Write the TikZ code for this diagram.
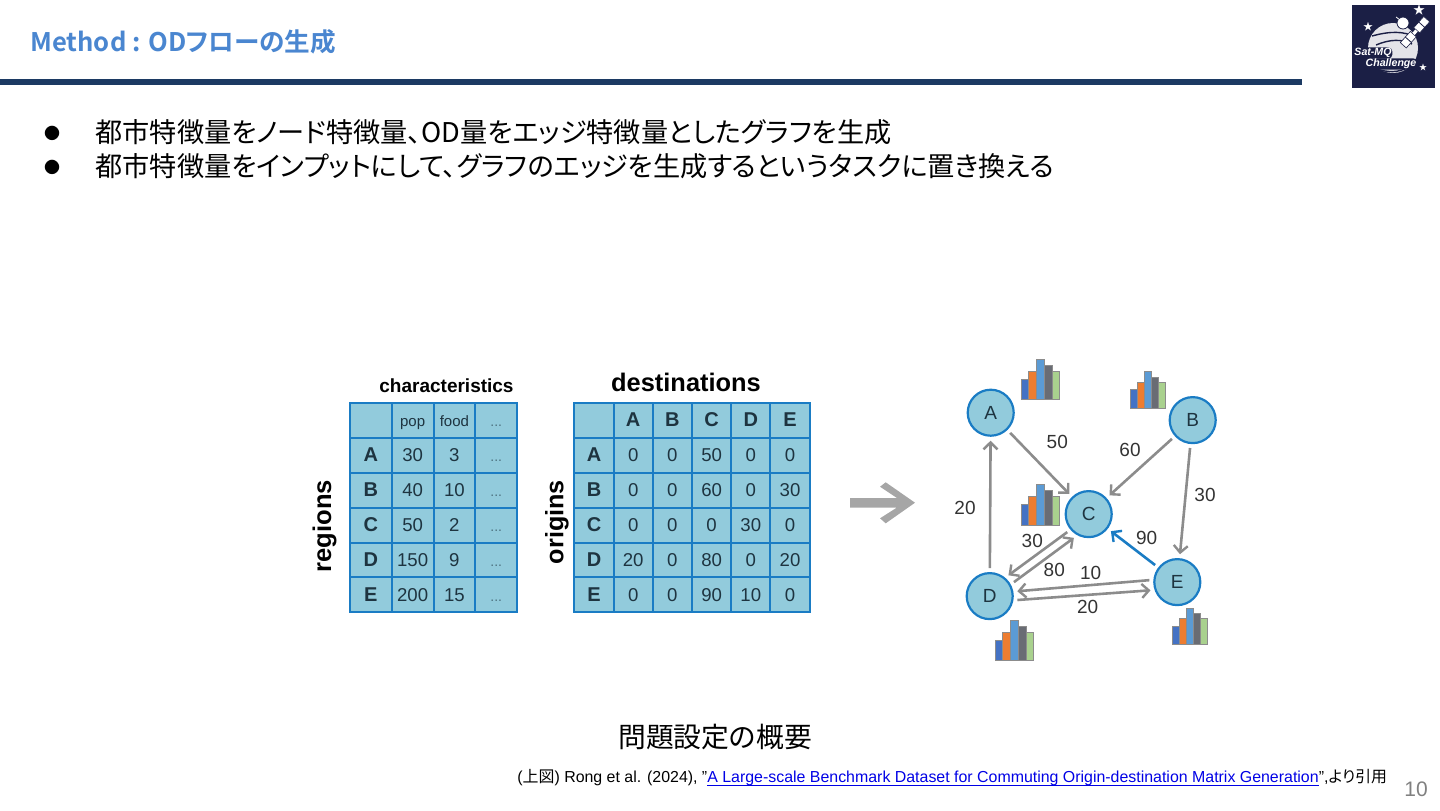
\documentclass[tikz,border=0pt]{standalone}
\usepackage{fontspec}
\usepackage{amsmath}
\usepackage{xcolor}
\usepackage{tikz}
\usetikzlibrary{arrows.meta}
\usetikzlibrary{matrix, positioning}
\setmainfont{Liberation Sans}
\newfontfamily\cjk[RawFeature=+palt]{Noto Sans CJK JP}
\newfontfamily\cjkbold[RawFeature=+palt]{Noto Sans CJK JP Bold}
\definecolor{navy}{HTML}{1C3A63}
\definecolor{logobg}{HTML}{1B1F45}
\definecolor{titleblue}{HTML}{4A86D0}
\definecolor{cellfill}{HTML}{92CBDC}
\definecolor{cellline}{HTML}{1A7CC4}
\definecolor{edgegrey}{HTML}{8C8C8C}
\definecolor{labeltext}{HTML}{333333}
\definecolor{celltext}{HTML}{1E3440}
\definecolor{cbarA}{HTML}{4472C4}
\definecolor{cbarB}{HTML}{ED7D31}
\definecolor{cbarC}{HTML}{5B9BD5}
\definecolor{cbarD}{HTML}{696C74}
\definecolor{cbarE}{HTML}{A9D18E}
\tikzset{
  cell/.style={draw=cellline, fill=cellfill, line width=1pt, text=celltext, inner sep=0pt, anchor=center,
    text height=6.3pt, text depth=0pt, font=\fontsize{9.3}{10}\selectfont},
  table/.style={matrix of nodes, nodes in empty cells, inner sep=0pt, column sep=-1pt, row sep=-1pt,
    row 1/.style={nodes={font=\fontsize{10}{10}\selectfont\bfseries}},
    column 1/.style={nodes={font=\fontsize{10}{10}\selectfont\bfseries}}},
  hdr/.style={font=\fontsize{7.5}{8}\selectfont},
  dots/.style={font=\fontsize{7}{8}\selectfont, text=celltext!60!cellfill},
  place/.style={circle, draw=cellline, fill=cellfill, line width=1.1pt, minimum size=23pt, inner sep=0pt,
    outer sep=2.5pt, text=celltext, font=\fontsize{9.5}{10}\selectfont},
  flow/.style={draw=edgegrey, line width=1.3pt, -{Straight Barb[length=3.5pt,width=7pt,line width=1.2pt]}},
  flowlabel/.style={text=labeltext, font=\fontsize{9.5}{10}\selectfont, inner sep=0pt},
  bulletline/.style={anchor=west, inner sep=0pt, font=\fontsize{13.6}{14}\selectfont\cjk},
  panel/.style={fill=white, draw=logobg, line width=0.3pt, minimum width=7.5pt, minimum height=4pt, inner sep=0pt, rotate=48},
  logotext/.style={text=white, fill=logobg, rounded corners=2pt, inner sep=0.4pt, font=\fontsize{5.3}{6}\selectfont\bfseries\itshape},
}
% small bar chart next to a region, #1 = lower left corner, #2 = scale
\newcommand{\histo}[2]{
  \begin{scope}[shift={#1}, x=#2*0.5pt, y=-#2*0.5pt, line width=0.3pt, draw=edgegrey]
    \filldraw[fill=cbarA] (0,0) rectangle (7.7,-20.5);
    \filldraw[fill=cbarB] (7.7,0) rectangle (15.4,-28.5);
    \filldraw[fill=cbarC] (15.4,0) rectangle (23.1,-40.5);
    \filldraw[fill=cbarD] (23.1,0) rectangle (30.8,-34.5);
    \filldraw[fill=cbarE] (30.8,0) rectangle (38.6,-28.5);
  \end{scope}
}

\begin{document}
\begin{tikzpicture}[x=0.5pt, y=-0.5pt]
    \useasboundingbox (0,0) rectangle (1440,810);

    % header
    \node[anchor=west, inner sep=0pt, text=titleblue, font=\fontsize{12.8}{14}\selectfont\cjkbold] (title) at (30,42) {Method : ODフローの生成};
    \fill[navy] (0,79) rectangle (1302,85);

    % logo
    \fill[logobg] (1352,5) rectangle (1435,88);
    \fill[white!88!logobg] (1393,48) circle (25);
    \draw[logobg, line width=0.7pt] (1372,36) .. controls (1390,31) and (1404,31) .. (1415,37);
    \draw[logobg, line width=0.7pt] (1376,45) .. controls (1390,39) and (1402,39) .. (1412,44);
    \draw[logobg, line width=0.7pt] (1380,70) .. controls (1392,73) and (1402,72) .. (1412,65);
    \node[panel] (panela) at (1421.7,24.7) {};
    \node[panel] (panelb) at (1408.3,39.7) {};
    \draw[logobg, line width=0.4pt] (panela.north) -- (panela.south);
    \draw[logobg, line width=0.4pt] (panelb.north) -- (panelb.south);
    \draw[white, line width=1.6pt] (panela) -- (panelb);
    \filldraw[fill=white, draw=logobg, line width=0.4pt] (1403,23) circle (6);
    \draw[white, line width=0.4pt] (1396,17) -- (1400,20);
    \node[logotext] (logoa) at (1373,53) {Sat-MQ};
    \node[logotext] (logob) at (1391,64) {Challenge};
    \node[text=white, inner sep=0pt, font=\fontsize{6}{6}\selectfont] (stara) at (1419,10) {\cjk ★};
    \node[text=white, inner sep=0pt, font=\fontsize{5}{6}\selectfont] (starb) at (1368,27) {\cjk ★};
    \node[text=white, inner sep=0pt, font=\fontsize{4}{6}\selectfont] (starc) at (1423,67) {\cjk ★};

    % bullets
    \node[inner sep=0pt, font=\fontsize{8}{8}\selectfont\cjk] (dota) at (52,133) {●};
    \node[inner sep=0pt, font=\fontsize{8}{8}\selectfont\cjk] (dotb) at (52,167) {●};
    \node[bulletline] (linea) at (95,132) {都市特徴量をノード特徴量、OD量をエッジ特徴量としたグラフを生成};
    \node[bulletline] (lineb) at (95,166) {都市特徴量をインプットにして、グラフのエッジを生成するというタスクに置き換える};

    % tables
    \matrix[table, anchor=north west, nodes={cell, minimum width=20.9pt, minimum height=17.45pt}] (regions) at (348.5,401.5) {
        & |[hdr]| pop & |[hdr]| food & |[dots]| ... \\
        A & 30 & 3 & |[dots]| ... \\
        B & 40 & 10 & |[dots]| ... \\
        C & 50 & 2 & |[dots]| ... \\
        D & 150 & 9 & |[dots]| ... \\
        E & 200 & 15 & |[dots]| ... \\
    };
    \matrix[table, anchor=north west, nodes={cell, minimum width=19.6pt, minimum height=17.45pt}] (origins) at (573,401.5) {
        & A & B & C & D & E \\
        A & 0 & 0 & 50 & 0 & 0 \\
        B & 0 & 0 & 60 & 0 & 30 \\
        C & 0 & 0 & 0 & 30 & 0 \\
        D & 20 & 0 & 80 & 0 & 20 \\
        E & 0 & 0 & 90 & 10 & 0 \\
    };
    \node[above=4pt of regions.north, xshift=6.5pt, inner sep=0pt, font=\fontsize{9.5}{10}\selectfont\bfseries] (characteristics) {characteristics};
    \node[above=4.5pt of origins.north, xshift=-3pt, inner sep=0pt, font=\fontsize{12.7}{13}\selectfont\bfseries] (destinations) {destinations};
    \node[rotate=90, inner sep=0pt, font=\fontsize{12.8}{13}\selectfont\bfseries] (regionslabel) at (324.5,526) {regions};
    \node[rotate=90, inner sep=0pt, font=\fontsize{12.6}{13}\selectfont\bfseries] (originslabel) at (557,522) {origins};

    % big arrow
    \fill[black!35] (850,498) -- (897,498) -- (880,486.7) -- (885.7,482.3) -- (915,502.7)
        -- (885.7,523.3) -- (880,518.3) -- (897,507.5) -- (850,507.5) -- cycle;

    % graph
    \histo{(1021,399.3)}{1}
    \histo{(1130.3,408)}{0.9}
    \histo{(1021,525)}{1}
    \histo{(995,660.7)}{1}
    \histo{(1172.7,644.3)}{0.9}

    \node[place] (A) at (990.7,412.7) {A};
    \node[place, on grid, below right=50.7pt and 49pt of A] (C) {C};
    \node[place, on grid, above right=47pt and 52pt of C] (B) {B};
    \node[place, on grid, below left=41pt and 49.5pt of C] (D) {D};
    \node[place, on grid, below right=34pt and 44.3pt of C] (E) {E};

    \draw[flow] (A) -- (C);
    \draw[flow] (B) -- (C);
    \draw[flow] (B) -- (E);
    \draw[flow] (D) -- (A);
    \draw[flow] (C.220) -- (D.48);
    \draw[flow] (D.30) -- (C.238);
    \draw[flow] (E.176) -- (D.10);
    \draw[flow] (D.-8) -- (E.197);
    \draw[flow, draw=cellline] (E) -- (C);

    \node[flowlabel] (l50) at (1057.3,441.7) {50};
    \node[flowlabel] (l60) at (1130,450) {60};
    \node[flowlabel] (l30b) at (1205,495.3) {30};
    \node[flowlabel] (l20a) at (965,507.7) {20};
    \node[flowlabel] (l30c) at (1032.3,541.3) {30};
    \node[flowlabel] (l80) at (1054.3,570) {80};
    \node[flowlabel] (l10) at (1090.7,573.3) {10};
    \node[flowlabel] (l20b) at (1087.7,606.7) {20};
    \node[flowlabel] (l90) at (1146.7,538.3) {90};

    % caption and source
    \node[inner sep=0pt, font=\fontsize{13.9}{14}\selectfont\cjk] (caption) at (715,737) {問題設定の概要};
    \node[anchor=west, inner sep=0pt, font=\fontsize{7.96}{9}\selectfont] (source) at (517,778)
        {({\cjk 上図}) Rong et al. (2024), \symbol{34}\textcolor{blue!90!black}{\underline{\smash{A Large-scale Benchmark Dataset for Commuting Origin-destination Matrix Generation}}}\symbol{34},{\cjk より引用}};
    \node[inner sep=0pt, text=black!50, font=\fontsize{10.5}{11}\selectfont] (pagenum) at (1416,789) {10};
\end{tikzpicture}
\end{document}
